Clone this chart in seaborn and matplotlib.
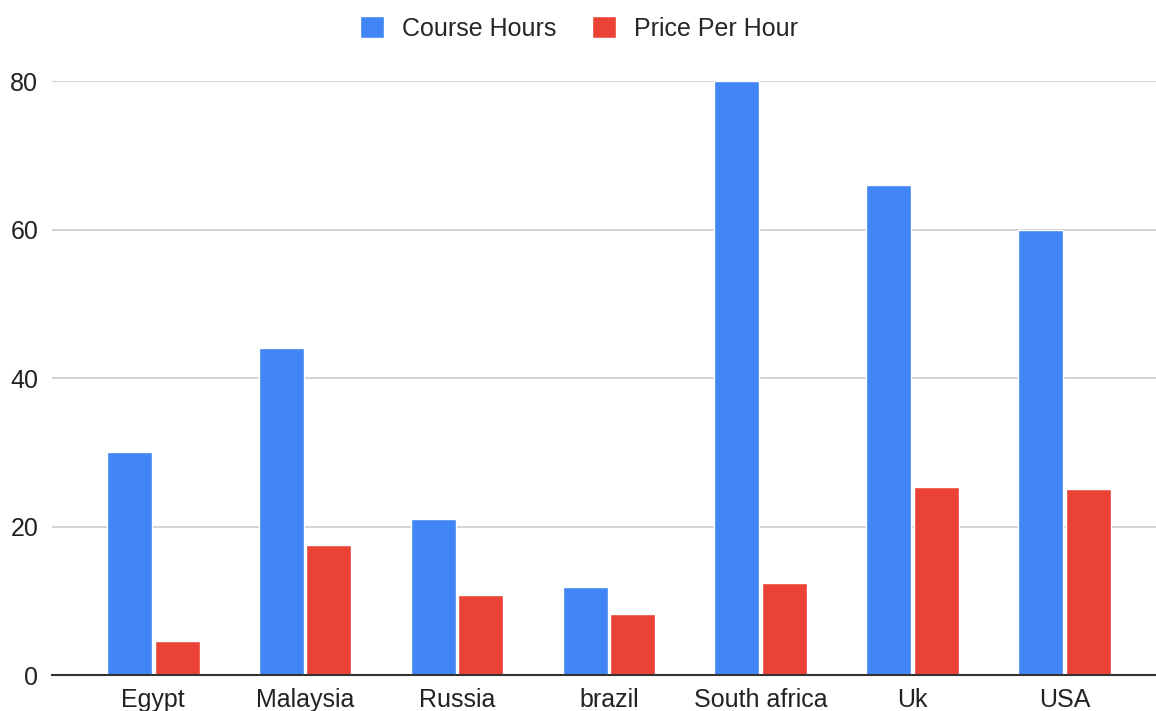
import pandas as pd
import matplotlib
matplotlib.use("Agg")
import matplotlib.pyplot as plt
import seaborn as sns

# Data
countries = ["Egypt", "Malaysia", "Russia", "brazil", "South africa", "Uk", "USA"]
course_hours = [30, 44, 21, 11.8, 80, 66, 60]
price_per_hour = [4.6, 17.5, 10.8, 8.2, 12.4, 25.3, 25.0]

df = pd.DataFrame({
    "Country": countries * 2,
    "Value": course_hours + price_per_hour,
    "Series": ["Course Hours"] * len(countries) + ["Price Per Hour"] * len(countries),
})

sns.set_style("white")
plt.rcParams["font.family"] = ["Liberation Sans", "DejaVu Sans"]

fig = plt.figure(figsize=(11.56, 7.11), dpi=100)
ax = fig.add_axes([0.045, 0.0506, 0.955, 0.8354])

sns.barplot(
    data=df, x="Country", y="Value", hue="Series",
    palette={"Course Hours": "#4285F4", "Price Per Hour": "#EA4335"},
    saturation=1, width=0.63, gap=0.06, ax=ax, legend=True,
)

ax.set_ylim(0, 80)
ax.set_xlim(-0.665, 6.6)
ax.set_yticks([0, 20, 40, 60, 80])
ax.yaxis.grid(True, color="#cccccc", linewidth=1.2)
ax.set_axisbelow(True)
ax.set_xlabel("")
ax.set_ylabel("")
for s in ["top", "right", "left"]:
    ax.spines[s].set_visible(False)
ax.spines["bottom"].set_color("#333333")
ax.spines["bottom"].set_linewidth(1.5)
ax.tick_params(axis="both", length=0, labelsize=18, colors="#222222")
ax.tick_params(axis="y", pad=10)
ax.tick_params(axis="x", pad=9)

ax.legend_.remove()
handles, labels = ax.get_legend_handles_labels()
fig.legend(handles, labels, loc="center", bbox_to_anchor=(0.501, 0.96), ncol=2,
           frameon=False, fontsize=18, handlelength=0.95, handleheight=0.95,
           columnspacing=1.4, handletextpad=0.75)

fig.savefig("out.png", dpi=100)
